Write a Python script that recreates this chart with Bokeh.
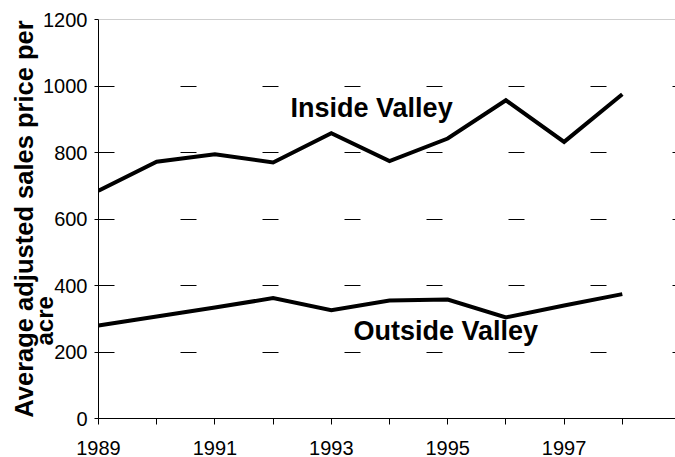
from bokeh.plotting import figure
from bokeh.models import FixedTicker, Span, Label, Range1d, Title
from bokeh.embed import file_html
from bokeh.resources import INLINE

years = [1989, 1990, 1991, 1992, 1993, 1994, 1995, 1996, 1997, 1998]
inside_valley = [685, 772, 795, 770, 858, 774, 842, 957, 832, 975]
outside_valley = [280, 307, 334, 362, 326, 355, 358, 304, 340, 374]
y_ticks = [0, 200, 400, 600, 800, 1000, 1200]
x_tick_labels = {1989: "1989", 1990: "", 1991: "1991", 1992: "", 1993: "1993",
                 1994: "", 1995: "1995", 1996: "", 1997: "1997", 1998: ""}
y_title_line1 = "Average adjusted sales price per"
y_title_line2 = "acre"

FONT = "Liberation Sans"

p = figure(width=675, height=457, output_backend="svg", toolbar_location=None,
           x_range=Range1d(1989, 1998.914), y_range=Range1d(0, 1200),
           min_border_left=98, min_border_right=0, min_border_top=19, min_border_bottom=39)
p.outline_line_color = None
p.background_fill_color = "white"
p.border_fill_color = "white"

# top border line of plot area
p.add_layout(Span(location=1200, dimension="width", line_color="#a0a0a0", line_width=1))

p.xgrid.visible = False
p.ygrid.ticker = FixedTicker(ticks=y_ticks)
p.ygrid.grid_line_color = "black"
p.ygrid.grid_line_width = 1
p.ygrid.grid_line_dash = "16 66"

p.line(years, inside_valley, line_color="black", line_width=4, line_join="miter")
p.line(years, outside_valley, line_color="black", line_width=4, line_join="miter")

# axes
p.xaxis.ticker = FixedTicker(ticks=years)
p.xaxis.major_label_overrides = {k: v for k, v in x_tick_labels.items()}
p.yaxis.ticker = FixedTicker(ticks=y_ticks)
for ax in (p.xaxis, p.yaxis):
    ax.axis_line_color = "black"
    ax.axis_line_width = 1
    ax.major_tick_line_color = "black"
    ax.major_tick_in = 0
    ax.minor_tick_line_color = None
    ax.major_label_text_font = FONT
    ax.major_label_text_font_size = "20px"
    ax.major_label_text_color = "black"
p.xaxis.major_tick_out = 6
p.xaxis.major_label_standoff = 16
p.yaxis.major_tick_out = 4
p.yaxis.major_label_standoff = 7

# annotations
p.add_layout(Label(x=1992.3, y=888, text="Inside Valley", text_font=FONT,
                   text_font_style="bold", text_font_size="27px", text_color="black"))
p.add_layout(Label(x=1993.38, y=217, text="Outside Valley", text_font=FONT,
                   text_font_style="bold", text_font_size="27px", text_color="black"))

# y axis title (two lines) as side-panel titles
t_acre = Title(text=y_title_line2, align="left", offset=73, standoff=-34,
               vertical_align="bottom", text_font=FONT, text_font_style="bold",
               text_font_size="24px", text_color="black")
t_main = Title(text=y_title_line1, align="center", standoff=6,
               vertical_align="bottom", text_font=FONT, text_font_style="bold",
               text_font_size="25.5px", text_color="black")
p.add_layout(t_acre, "left")
p.add_layout(t_main, "left")

open("out.html", "w").write(file_html(p, INLINE))
